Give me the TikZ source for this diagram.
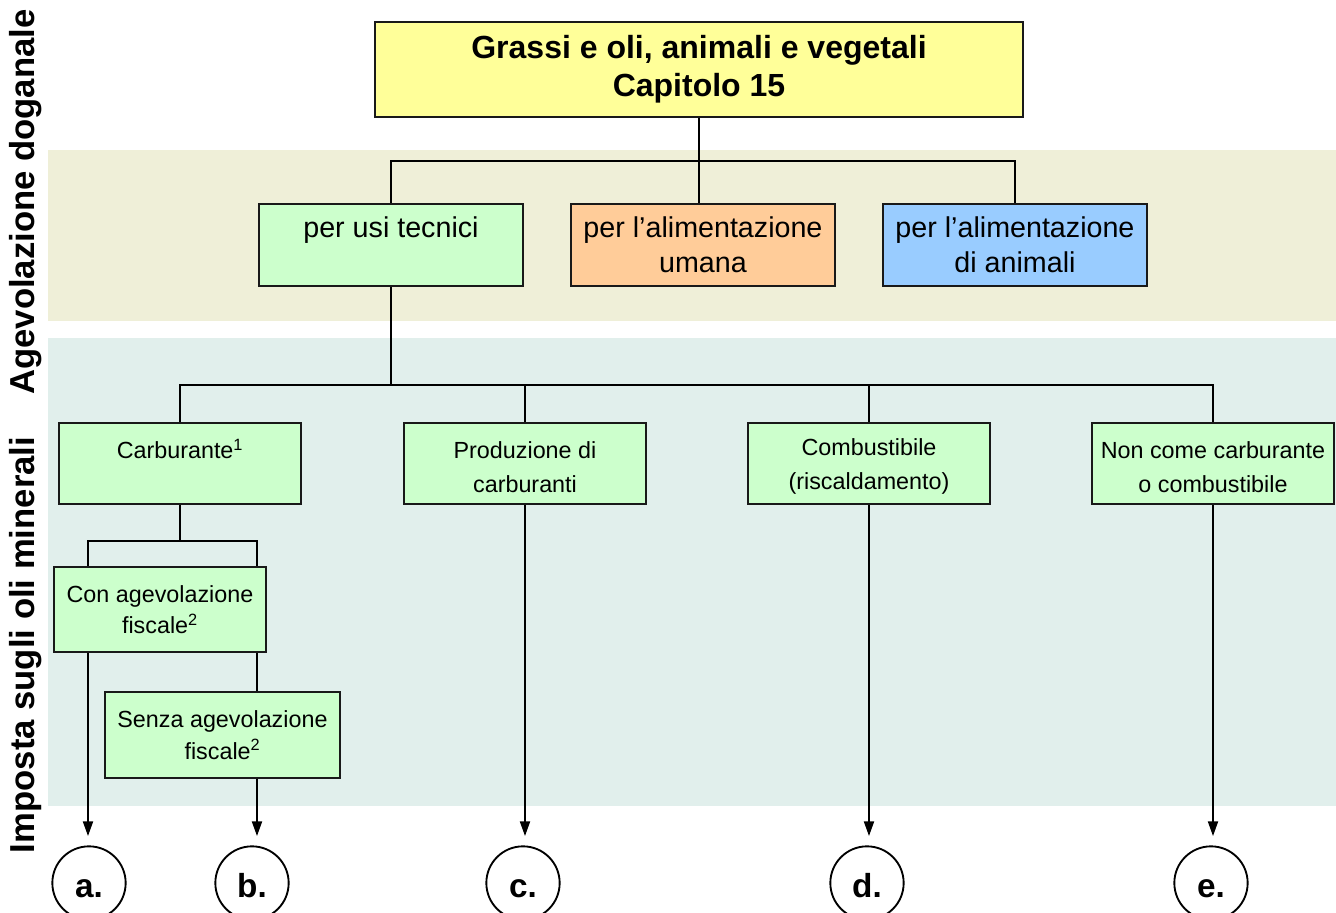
\documentclass[tikz,border=0pt]{standalone}
\usepackage{fontspec}
\setmainfont{Liberation Sans}
\usetikzlibrary{arrows.meta}
\definecolor{bandtop}{RGB}{239,239,216}
\definecolor{bandlow}{RGB}{225,239,236}
\definecolor{capyellow}{RGB}{255,255,153}
\definecolor{usegreen}{RGB}{204,255,204}
\definecolor{useorange}{RGB}{255,204,153}
\definecolor{useblue}{RGB}{153,204,255}
\tikzset{
  box/.style={draw=black!90, line width=1.4pt, align=center, inner sep=0pt},
  capbox/.style={box, fill=capyellow, minimum width=486pt, minimum height=71pt,
    font=\bfseries\fontsize{24}{28.5}\selectfont},
  usebox/.style={box, minimum width=198pt, minimum height=61.5pt,
    font=\fontsize{21.5}{26.25}\selectfont},
  kindbox/.style={box, fill=usegreen, minimum width=181pt, minimum height=61pt,
    font=\fontsize{17.5}{25.5}\selectfont},
  taxbox/.style={box, fill=usegreen, font=\fontsize{17.5}{23.5}\selectfont},
  endcircle/.style={draw, line width=1.4pt, circle, minimum size=55pt, inner sep=0pt,
    text height=21pt, text depth=0pt, font=\bfseries\fontsize{25}{28}\selectfont},
  sidelabel/.style={rotate=90, font=\bfseries\fontsize{26}{30}\selectfont},
  link/.style={line width=1.4pt},
  goto/.style={link, -{Triangle[width=7.5pt,length=11pt]}, shorten >=7pt}
}
\begin{document}
\begin{tikzpicture}[x=0.75pt, y=-0.75pt]
    \useasboundingbox (0,0) rectangle (1336,913);
    \fill[bandtop] (48,150) rectangle (1336,321);
    \fill[bandlow] (48,338) rectangle (1336,806);

    \node[sidelabel] (dog) at (26,202) {Agevolazione doganale};
    \node[sidelabel] (imp) at (26,645) {Imposta sugli oli minerali};

    \node[capbox] (cap) at (699,69.5) {Grassi e oli, animali e vegetali\\Capitolo 15};
    \node[usebox, fill=usegreen] (tec) at (391,245) {per usi tecnici\\\mbox{}};
    \node[usebox, fill=useorange] (uma) at (703,245) {per l’alimentazione\\umana};
    \node[usebox, fill=useblue] (ani) at (1015,245) {per l’alimentazione\\di animali};

    \node[kindbox] (carb) at (180,463.5) {\strut Carburante\textsuperscript{1}\\\mbox{}};
    \node[kindbox] (prod) at (525,463.5) {\strut Produzione di\\carburanti};
    \node[kindbox] (comb) at (869,463.5) {\strut Combustibile\\(riscaldamento)};
    \node[kindbox] (non) at (1213,463.5) {\strut Non come carburante\\o combustibile};

    \node[taxbox, minimum width=159pt, minimum height=64pt] (con) at (160,609.5) {Con agevolazione\\fiscale\textsuperscript{2}};
    \node[taxbox, minimum width=176pt, minimum height=64.5pt] (senza) at (222.5,735) {Senza agevolazione\\fiscale\textsuperscript{2}};

    \node[endcircle] (a) at (89,883) {a.};
    \node[endcircle] (b) at (252,883) {b.};
    \node[endcircle] (c) at (523,883) {c.};
    \node[endcircle] (d) at (867,883) {d.};
    \node[endcircle] (e) at (1211,883) {e.};

    \coordinate (bus1) at (699,161);
    \coordinate (bus2) at (391,385);
    \coordinate (ja) at (88,541);
    \coordinate (jb) at (257,541);

    \draw[link] (cap.south) -- (cap.south |- uma.north);
    \draw[link] (tec.north) |- (bus1) -| (ani.north);
    \draw[link] (tec.south) -- (bus2);
    \draw[link] (carb.north) |- (bus2) -| (non.north);
    \draw[link] (prod.north) -- (prod.north |- bus2); \draw[link] (comb.north) -- (comb.north |- bus2);
    \draw[link] (carb.south) -- (carb.south |- ja);
    \draw[link] (ja |- con.north) -- (ja) -- (jb) -- (jb |- con.north);
    \draw[link] (jb |- con.south) -- (jb |- senza.north);

    \draw[goto] (ja |- con.south) -- (ja |- a.north);
    \draw[goto] (jb |- senza.south) -- (jb |- b.north);
    \draw[goto] (prod.south) -- (prod.south |- c.north);
    \draw[goto] (comb.south) -- (comb.south |- d.north);
    \draw[goto] (non.south) -- (non.south |- e.north);
\end{tikzpicture}
\end{document}
